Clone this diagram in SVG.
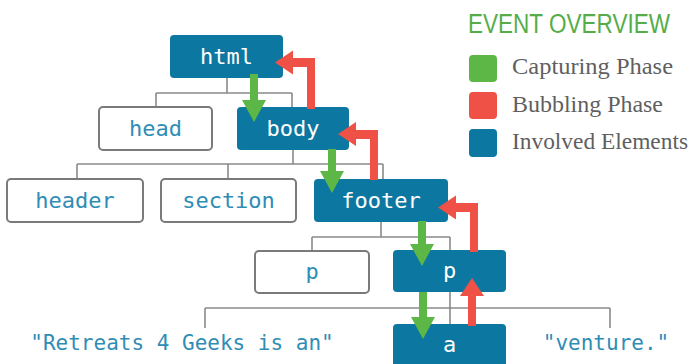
<svg xmlns="http://www.w3.org/2000/svg" width="694" height="364" viewBox="0 0 694 364">
<style>
.blue{fill:#0c77a0}
.white{fill:#fff;stroke:#7a7a7a;stroke-width:2}
.lbl{font-family:"DejaVu Sans Mono",monospace;font-size:22px;text-anchor:middle}
.lw{fill:#ffffff}
.lt{fill:#2f8db5}
.txt{font-family:"DejaVu Sans Mono",monospace;font-size:21px;fill:#2f8db5;text-anchor:middle}
.tree{fill:none;stroke:#8a8a8a;stroke-width:1.6}
.g{fill:#5db746}
.r{fill:#ef5146}
.leg{font-family:"Liberation Serif",serif;font-size:24px;fill:#5f5f5f}
</style>
<rect width="694" height="364" fill="#fff"/>
<g id="connectors">
<path class="tree" d="M227 78V93M156 93H292M156 93V107M292 93V107"/>
<path class="tree" d="M293 150V164M77 164H383M77 164V179M228 164V179M383 164V179"/>
<path class="tree" d="M381 222V237M312 237H450M312 237V251M450 237V250"/>
<path class="tree" d="M450 292V308M205 308H610M205 308V328M450 308V324M610 308V328"/>
</g>
<g id="html"><rect class="blue" x="170" y="35" width="113" height="43" rx="4"/><text class="lbl lw" x="226.5" y="64">html</text></g>
<g id="head"><rect class="white" x="99" y="107" width="113" height="43" rx="4"/><text class="lbl lt" x="155.5" y="136">head</text></g>
<g id="body"><rect class="blue" x="237" y="107" width="112" height="43" rx="4"/><text class="lbl lw" x="293" y="136">body</text></g>
<g id="header"><rect class="white" x="7" y="179" width="136" height="43" rx="4"/><text class="lbl lt" x="75" y="208">header</text></g>
<g id="section"><rect class="white" x="161" y="179" width="135" height="43" rx="4"/><text class="lbl lt" x="228.5" y="208">section</text></g>
<g id="footer"><rect class="blue" x="314" y="179" width="134" height="43" rx="4"/><text class="lbl lw" x="381" y="208">footer</text></g>
<g id="p1"><rect class="white" x="255" y="251" width="114" height="42" rx="4"/><text class="lbl lt" x="312" y="279">p</text></g>
<g id="p2"><rect class="blue" x="393" y="250" width="113" height="42" rx="4"/><text class="lbl lw" x="449.5" y="278">p</text></g>
<g id="a"><rect class="blue" x="393" y="324" width="113" height="44" rx="4"/><text class="lbl lw" x="449.5" y="352">a</text></g>
<g id="text1"><text class="txt" x="182" y="350">"Retreats 4 Geeks is an"</text></g>
<g id="text2"><text class="txt" x="606" y="350">"venture."</text></g>
<g id="arrows">
<path class="g" d="M250 74H258V100H266L254 122L242 100H250Z"/>
<path class="g" d="M328 149H336V171H344L332 193L320 171H328Z"/>
<path class="g" d="M418 221H426V244H434L422 266L410 244H418Z"/>
<path class="g" d="M419 292H427V317H435L423 339L411 317H419Z"/>
<path class="r" d="M307 109V67H293V74.5L275 62.5L293 50.5V58H315V109Z"/>
<path class="r" d="M370 180V139H356V146L338 134L356 122V130H378V180Z"/>
<path class="r" d="M470 252V212H456V219.5L438 207.5L456 195.5V203H478V252Z"/>
<path class="r" d="M468 326V296H460L472 278L484 296H476V326Z"/>
</g>
<g id="legend">
<text transform="translate(468 33) scale(0.805 1)" x="0" y="0" font-family="Liberation Sans,sans-serif" font-size="28" fill="#55ad48">EVENT OVERVIEW</text>
<rect class="g" x="469" y="55" width="28" height="27" rx="4"/>
<rect class="r" x="469" y="92" width="28" height="27" rx="4"/>
<rect class="blue" x="469" y="129" width="28" height="28" rx="4"/>
<text class="leg" x="512" y="74" textLength="161" lengthAdjust="spacingAndGlyphs">Capturing Phase</text>
<text class="leg" x="512" y="112" textLength="151" lengthAdjust="spacingAndGlyphs">Bubbling Phase</text>
<text class="leg" x="512" y="149" textLength="176" lengthAdjust="spacingAndGlyphs">Involved Elements</text>
</g>
</svg>
